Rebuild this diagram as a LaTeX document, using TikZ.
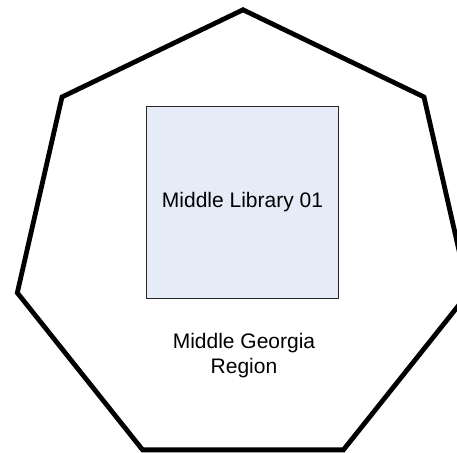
\documentclass[tikz,border=0pt]{standalone}
\usepackage{fontspec}
\setmainfont{Liberation Sans}
\usetikzlibrary{shapes.geometric}
\definecolor{libfill}{HTML}{E6ECF7}
\definecolor{libedge}{HTML}{262626}
\tikzset{
  reg/.style={regular polygon, regular polygon sides=7, draw=black, line width=2.4pt, inner sep=0pt, minimum size=231.5pt},
  lib/.style={draw=libedge, fill=libfill, line width=0.5pt, inner sep=0pt, minimum size=95.8pt, font=\fontsize{10.5}{12.5}\selectfont},
  lbl/.style={align=center, font=\fontsize{10.5}{12.5}\selectfont},
}
\begin{document}
\begin{tikzpicture}[x=0.5pt, y=-0.5pt]
    \useasboundingbox (0,0) rectangle (457,453);
    \node[reg] (region) at (243,241.3) {};
    \node[lib] (library) at (242.5,202.5) {Middle Library 01};
    \node[lbl] (regname) at (244,355.5) {Middle Georgia\\Region};
\end{tikzpicture}
\end{document}
